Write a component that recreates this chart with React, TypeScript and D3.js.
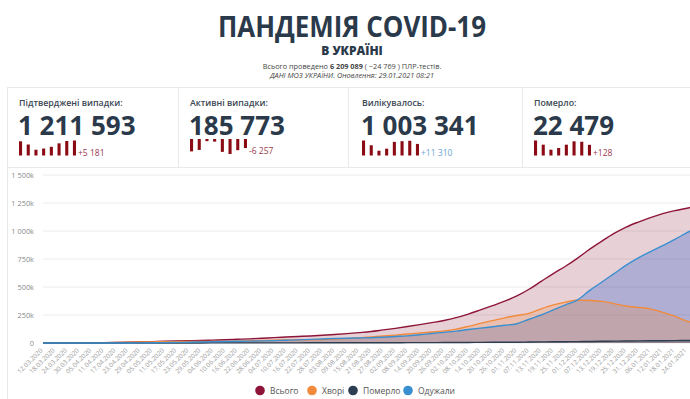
import React from "react";
import * as d3 from "d3";

// sample dates (every 6 days, same as the axis ticks) + last day
const sampleDates = [
  "12.03.2020", "18.03.2020", "24.03.2020", "30.03.2020", "05.04.2020", "11.04.2020", "17.04.2020",
  "23.04.2020", "29.04.2020", "05.05.2020", "11.05.2020", "17.05.2020", "23.05.2020", "29.05.2020",
  "04.06.2020", "10.06.2020", "16.06.2020", "22.06.2020", "28.06.2020", "04.07.2020", "10.07.2020",
  "16.07.2020", "22.07.2020", "28.07.2020", "03.08.2020", "09.08.2020", "15.08.2020", "21.08.2020",
  "27.08.2020", "02.09.2020", "08.09.2020", "14.09.2020", "20.09.2020", "26.09.2020", "02.10.2020",
  "08.10.2020", "14.10.2020", "20.10.2020", "26.10.2020", "01.11.2020", "07.11.2020", "13.11.2020",
  "19.11.2020", "25.11.2020", "01.12.2020", "07.12.2020", "13.12.2020", "19.12.2020", "25.12.2020",
  "31.12.2020", "06.01.2021", "12.01.2021", "18.01.2021", "24.01.2021", "26.01.2021",
];
const tickLabels = sampleDates.slice(0, -1);

// values in thousands
const totalCases = [
  0.001, 0.016, 0.113, 0.55, 1.3, 2.5, 4.7, 7.2, 9.9, 12.7, 15.6, 18.3, 20.6, 22.8, 26, 29, 33, 37, 42,
  48, 53, 58, 63, 69, 76, 84, 93, 103, 117, 131, 147, 164, 182, 201, 226, 258, 295, 333, 373, 420, 480,
  550, 620, 685, 758, 838, 910, 978, 1035, 1080, 1120, 1155, 1182, 1203, 1211.6,
];
const activeCases = [
  0.001, 0.016, 0.11, 0.52, 1.25, 2.35, 4.4, 6.5, 8.6, 10.4, 12.1, 12.6, 13.1, 12.8, 13.7, 14.7, 16.9,
  19.5, 22.2, 25.4, 27.2, 29.1, 29.5, 31.3, 34.2, 39, 46, 54, 62, 70, 80, 89, 98, 108, 124, 148, 175,
  200, 224, 246, 265, 305, 340, 365, 383, 380, 372, 352, 330, 318, 305, 274, 240, 195, 185.8,
];
const deaths = [
  0, 0, 0.003, 0.013, 0.038, 0.073, 0.125, 0.187, 0.25, 0.316, 0.408, 0.548, 0.605, 0.669, 0.764, 0.85,
  0.95, 1.0, 1.08, 1.2, 1.33, 1.45, 1.57, 1.67, 1.78, 1.9, 2.05, 2.2, 2.43, 2.7, 2.98, 3.25, 3.56, 3.88,
  4.3, 4.85, 5.45, 6.08, 6.7, 7.3, 8.4, 9.6, 10.8, 11.7, 12.6, 13.8, 15.0, 16.3, 17.5, 18.6, 19.6, 20.6,
  21.5, 22.2, 22.48,
];
const recovered = [
  0, 0, 0.001, 0.01, 0.03, 0.08, 0.2, 0.5, 1.0, 2.0, 3.1, 5.2, 6.9, 9.3, 11.5, 13.4, 15.0, 16.5, 18.7,
  21.4, 24.5, 27.5, 32, 36, 40, 43, 45, 47, 52, 58, 64, 74, 85, 95, 106, 120, 133, 145, 158, 172, 212,
  250, 295, 340, 385, 470, 545, 620, 695, 760, 815, 870, 925, 985, 1003.3,
];
const yTicks = [0, 250, 500, 750, 1000, 1250, 1500];

// header cards
const cardTitles = ["Підтверджені випадки:", "Активні випадки:", "Вилікувалось:", "Померло:"];
const cardNumbers = ["1 211 593", "185 773", "1 003 341", "22 479"];
const cardDeltas = ["+5 181", "-6 257", "+11 310", "+128"];
const confirmedBars = [4900, 3800, 2000, 2400, 3000, 4200, 5000, 5181];
const activeBars = [-5200, -4600, -900, -1100, -5400, -6300, -4700, -3800];
const recoveredBars = [11000, 7500, 3500, 5000, 10000, 10500, 10800, 8500];
const deathBars = [180, 130, 70, 90, 130, 170, 165, 128];

const legendNames = ["Всього", "Хворі", "Померло", "Одужали"];

const C_TOTAL = "#8e1538";
const C_ACTIVE = "#f28a3c";
const C_DEAD = "#2c3e50";
const C_REC = "#3a8fd0";
const NAVY = "#2b3a4b";
const FONT = "'Open Sans', 'DejaVu Sans', sans-serif";

const parse = d3.timeParse("%d.%m.%Y");

export default function App() {
  const W = 690;
  const H = 399;
  const dates = sampleDates.map((d) => parse(d) as Date);

  const x = d3.scaleTime().domain([dates[0], dates[dates.length - 1]]).range([43, 691]);
  const y = d3.scaleLinear().domain([0, 1500]).range([343, 175]);

  const area = (vals: number[]) =>
    d3
      .area<number>()
      .x((_, i) => x(dates[i]))
      .y0(y(0))
      .y1((d) => y(d))
      .curve(d3.curveMonotoneX)(vals) as string;
  const line = (vals: number[]) =>
    d3
      .line<number>()
      .x((_, i) => x(dates[i]))
      .y((d) => y(d))
      .curve(d3.curveMonotoneX)(vals) as string;

  const yFmt = (d: number) => (d === 0 ? "0" : d3.format(",")(d).replace(",", " ") + "k");

  const cardX = [19, 190, 362, 534];
  const barSets = [confirmedBars, activeBars, recoveredBars, deathBars];
  const deltaColors = ["#9b3a4e", "#9b3a4e", "#6aa6d8", "#9b3a4e"];

  const series = [
    { vals: totalCases, color: C_TOTAL },
    { vals: activeCases, color: C_ACTIVE },
    { vals: deaths, color: C_DEAD },
    { vals: recovered, color: C_REC },
  ];

  return (
    <svg
      width={W}
      height={H}
      style={{ position: "absolute", left: 0, top: 0, background: "#fff" }}
      fontFamily={FONT}
    >
      {/* header */}
      <text x={352} y={37} textAnchor="middle" fontSize={28} fontWeight={700} fill={NAVY}
        textLength={268} lengthAdjust="spacingAndGlyphs">
        ПАНДЕМІЯ COVID-19
      </text>
      <text x={352} y={55} textAnchor="middle" fontSize={12} fontWeight={800} fill={NAVY}>
        В УКРАЇНІ
      </text>
      <text x={352} y={69} textAnchor="middle" fontSize={7.3} fill="#444">
        Всього проведено <tspan fontWeight={700}>6 209 089</tspan> ( −24 769 ) ПЛР-тестів.
      </text>
      <text x={352} y={78} textAnchor="middle" fontSize={7.3} fontStyle="italic" fill="#444">
        ДАНІ МОЗ УКРАЇНИ. Оновлення: 29.01.2021 08:21
      </text>

      {/* cards */}
      <g stroke="#e9e9e9" strokeWidth={1}>
        <line x1={7} x2={W} y1={87.5} y2={87.5} />
        <line x1={7} x2={W} y1={167.5} y2={167.5} />
        <line x1={7.5} x2={7.5} y1={87} y2={H} />
        {[178.5, 348.5, 522.5].map((sx) => (
          <line key={sx} x1={sx} x2={sx} y1={87} y2={167} />
        ))}
      </g>
      {cardTitles.map((t, ci) => {
        const bars = barSets[ci];
        const maxAbs = d3.max(bars, (v) => Math.abs(v)) as number;
        const bx = d3.scaleBand<number>().domain(d3.range(bars.length)).range([cardX[ci], cardX[ci] + 57]).paddingInner(0.6);
        const bh = d3.scaleLinear().domain([0, maxAbs]).range([0, 15]);
        return (
          <g key={t}>
            <text x={cardX[ci]} y={105.5} fontSize={8.8} fontWeight={600} fill="#3b4754">
              {t}
            </text>
            <text x={cardX[ci] - 1} y={134.5} fontSize={26} fontWeight={700} fill={NAVY}>
              {cardNumbers[ci]}
            </text>
            {bars.map((v, i) =>
              v >= 0 ? (
                <rect key={i} x={bx(i)} y={155.5 - bh(v)} width={bx.bandwidth()} height={bh(v)} fill="#8b0b14" />
              ) : (
                <rect key={i} x={bx(i)} y={139} width={bx.bandwidth()} height={bh(-v)} fill="#8b0b14" />
              )
            )}
            <text x={cardX[ci] + 59} y={ci === 1 ? 154 : 155.5} fontSize={8.5} fill={deltaColors[ci]}>
              {cardDeltas[ci]}
            </text>
          </g>
        );
      })}

      {/* grid + y axis */}
      {yTicks.map((t) => (
        <g key={t}>
          <line x1={43} x2={W} y1={y(t)} y2={y(t)} stroke="#ececec" strokeWidth={1} />
          <text x={34} y={y(t) + 2.5} textAnchor="end" fontSize={7.4} fill="#8a8a8a">
            {yFmt(t)}
          </text>
        </g>
      ))}

      {/* areas */}
      <path d={area(totalCases)} fill={C_TOTAL} fillOpacity={0.2} />
      <path d={area(recovered)} fill="#2f5fc8" fillOpacity={0.3} />
      <path d={area(activeCases)} fill={C_ACTIVE} fillOpacity={0.25} />
      <path d={area(deaths)} fill={C_DEAD} fillOpacity={0.3} />

      {/* lines */}
      {series.map((s) => (
        <path key={s.color} d={line(s.vals)} fill="none" stroke={s.color} strokeWidth={1.4} />
      ))}

      {/* x axis labels */}
      {tickLabels.map((lbl) => {
        const tx = x(parse(lbl) as Date);
        return (
          <text key={lbl} transform={`translate(${tx},${351}) rotate(-45)`} textAnchor="end"
            fontSize={6.4} fill="#9a9a9a">
            {lbl}
          </text>
        );
      })}

      {/* legend */}
      {legendNames.map((n, i) => {
        const lx = [260, 312, 353, 408][i];
        const col = [C_TOTAL, C_ACTIVE, C_DEAD, C_REC][i];
        return (
          <g key={n}>
            <circle cx={lx} cy={390.5} r={4.8} fill={col} />
            <text x={lx + 10} y={393.5} fontSize={8.5} fill="#555">
              {n}
            </text>
          </g>
        );
      })}
    </svg>
  );
}
